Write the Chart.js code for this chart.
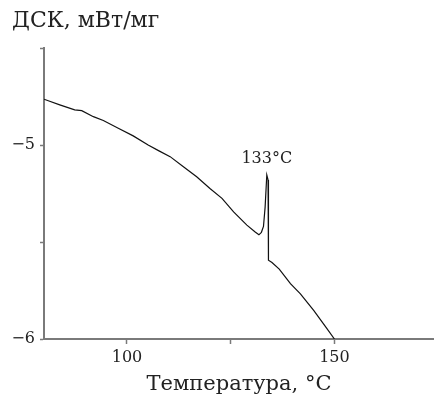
<!DOCTYPE html>
<html>
<head>
<meta charset="utf-8">
<script src="https://cdn.jsdelivr.net/npm/chart.js@4"></script>
<style>
html,body{margin:0;padding:0;background:#fff;}
#wrap{width:434px;height:405px;}
</style>
</head>
<body>
<div id="wrap"><canvas id="c" width="434" height="405"></canvas></div>
<script>
const temperature = [80, 83.8, 87.4, 89.1, 91.9, 94.3, 97.9, 101.5, 105.1, 107.6, 110.4, 113.6, 116.8, 120.0, 122.9, 125.7, 128.9, 130.9, 131.8, 132.4, 132.9, 133.3, 133.7, 134.0, 134.1, 134.95, 136.7, 139.4, 141.8, 145.0, 148.2, 150.0];
const dsc = [-4.764, -4.793, -4.819, -4.823, -4.854, -4.874, -4.914, -4.953, -5.0, -5.029, -5.06, -5.112, -5.164, -5.224, -5.275, -5.345, -5.413, -5.448, -5.463, -5.45, -5.42, -5.319, -5.155, -5.18, -5.594, -5.606, -5.64, -5.715, -5.767, -5.853, -5.947, -6.0];
const xTicks = [100, 125, 150];
const xLabels = [100, 150];
const yTicks = [-6, -5.5, -5, -4.5];
const yLabels = [-6, -5];
const peakLabel = "133°C";
const peakX = 133.7, peakY = -5.155;
const yTitle = "ДСК, мВт/мг";
const xTitle = "Температура, °C";

const FONT = "'DejaVu Serif', serif";
const axisColor = '#7a7a7a';

const peakPlugin = {
  id: 'peak',
  afterDatasetsDraw(chart) {
    const ctx = chart.ctx;
    const x = chart.scales.x.getPixelForValue(peakX);
    const y = chart.scales.y.getPixelForValue(peakY);
    ctx.save();
    ctx.font = '16px ' + FONT;
    ctx.fillStyle = '#222';
    ctx.textAlign = 'center';
    ctx.textBaseline = 'alphabetic';
    ctx.fillText(peakLabel, x, y - 12);
    ctx.restore();
  }
};

new Chart(document.getElementById('c'), {
  type: 'line',
  data: {
    datasets: [{
      data: temperature.map((t, i) => ({x: t, y: dsc[i]})),
      borderColor: '#111',
      borderWidth: 1.2,
      pointRadius: 0,
      tension: 0,
      fill: false
    }]
  },
  options: {
    responsive: false,
    animation: false,
    layout: {padding: {left: 12, right: 0, top: 0, bottom: 8}},
    plugins: {
      legend: {display: false},
      tooltip: {enabled: false},
      title: {
        display: true,
        text: yTitle,
        align: 'start',
        color: '#222',
        font: {family: FONT, size: 22, weight: 'normal', lineHeight: 1.2},
        padding: {top: 8, bottom: 13.6}
      }
    },
    scales: {
      x: {
        type: 'linear',
        min: 80,
        max: 174,
        afterBuildTicks: s => { s.ticks = xTicks.map(v => ({value: v})); },
        afterFit: s => { s.height = 58; },
        ticks: {
          color: '#222',
          font: {family: FONT, size: 16},
          padding: 4,
          maxRotation: 0,
          autoSkip: false,
          callback: v => xLabels.includes(v) ? String(v) : ''
        },
        grid: {display: true, drawOnChartArea: false, drawTicks: true, tickLength: 5, color: axisColor, tickColor: axisColor, tickWidth: 1.5},
        border: {display: true, color: axisColor, width: 2},
        title: {display: true, text: xTitle, color: '#222', font: {family: FONT, size: 21}, padding: {top: 8, bottom: 0}}
      },
      y: {
        type: 'linear',
        min: -6,
        max: -4.5,
        afterBuildTicks: s => { s.ticks = yTicks.map(v => ({value: v})); },
        afterFit: s => { s.width = 32; },
        ticks: {
          color: '#222',
          font: {family: FONT, size: 16},
          padding: 5,
          autoSkip: false,
          callback: v => yLabels.includes(v) ? String(v).replace('-', '\u2212') : ''
        },
        grid: {display: true, drawOnChartArea: false, drawTicks: true, tickLength: 4, color: axisColor, tickColor: axisColor, tickWidth: 1.5},
        border: {display: true, color: axisColor, width: 2}
      }
    }
  },
  plugins: [peakPlugin]
});
</script>
</body>
</html>
